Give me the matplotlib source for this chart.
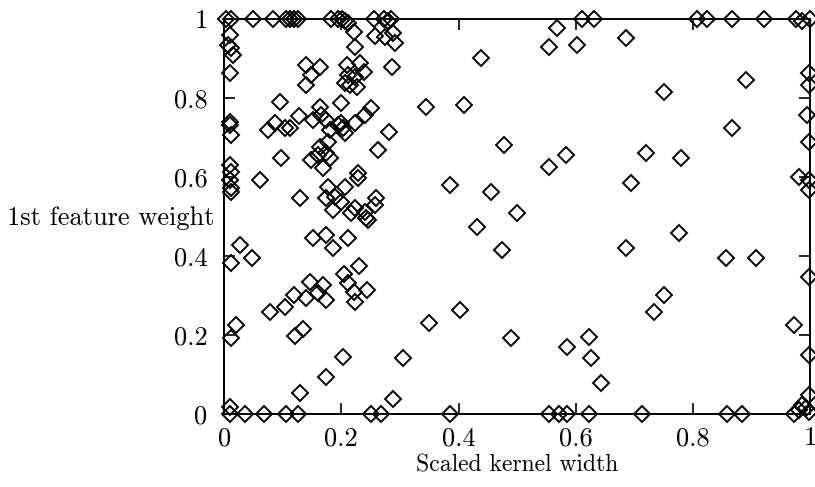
import matplotlib.pyplot as plt

# points pinned at weight = 1 (top edge) and weight = 0 (bottom edge)
top_row_x = [0.003, 0.012, 0.05, 0.084, 0.106, 0.113, 0.12, 0.126, 0.183, 0.195,
             0.202, 0.207, 0.212, 0.255, 0.272, 0.279, 0.285, 0.61, 0.631, 0.807,
             0.824, 0.867, 0.921, 0.976, 0.986, 1.0]
top_row_y = [1.0, 1.0, 1.0, 1.0, 1.0, 1.0, 1.0, 1.0, 1.0, 1.0,
             1.0, 0.995, 0.99, 1.0, 1.0, 0.995, 1.0, 1.0, 1.0, 1.0,
             1.0, 1.0, 1.0, 1.0, 0.995, 1.0]
bottom_row_x = [0.01, 0.036, 0.068, 0.106, 0.126, 0.25, 0.267, 0.386, 0.554,
                0.571, 0.585, 0.622, 0.713, 0.858, 0.884, 0.973, 0.998]
bottom_row_y = [0.0, 0.0, 0.0, 0.0, 0.0, 0.0, 0.0, 0.0, 0.0,
                0.0, 0.0, 0.0, 0.0, 0.0, 0.0, 0.0, 0.005]

# everything in between
kernel_width = [
    0.01, 0.007, 0.012, 0.015, 0.01, 0.01, 0.01, 0.012, 0.01, 0.012, 0.01, 0.012,
    0.012, 0.027, 0.012, 0.048, 0.021, 0.012, 0.01,
    0.221, 0.258, 0.275, 0.289, 0.224, 0.292, 0.568, 0.554, 0.603, 0.685,
    0.14, 0.164, 0.149, 0.14, 0.209, 0.232, 0.238, 0.212, 0.224, 0.215, 0.226,
    0.207, 0.287, 0.438, 0.75, 0.891,
    0.096, 0.075, 0.087, 0.104, 0.113, 0.128, 0.164, 0.2, 0.166, 0.173, 0.152,
    0.181, 0.2, 0.203, 0.207, 0.195, 0.224, 0.241, 0.251, 0.282, 0.263, 0.345,
    0.409, 0.477, 0.867, 0.998, 0.998, 0.995, 0.998,
    0.178, 0.164, 0.173, 0.161, 0.149, 0.181, 0.169, 0.229, 0.229, 0.097, 0.062,
    0.554, 0.583, 0.72, 0.779, 0.386, 0.455, 0.26, 0.694, 0.981, 0.998, 0.998,
    0.13, 0.178, 0.207, 0.19, 0.174, 0.2, 0.224, 0.241, 0.186, 0.217, 0.242,
    0.246, 0.258, 0.499, 0.431, 0.474, 0.776, 0.685, 0.856, 0.908,
    0.152, 0.173, 0.186, 0.212, 0.231, 0.205, 0.147, 0.169, 0.14, 0.161, 0.174,
    0.212, 0.221, 0.243, 0.224, 0.079, 0.104, 0.12, 0.75, 0.733, 0.998,
    0.403, 0.349, 0.489, 0.585, 0.622, 0.626, 0.973, 0.998, 0.121, 0.135,
    0.203, 0.306, 0.174, 0.13, 0.289, 0.643, 0.998, 0.986, 0.993, 0.981,
]
feature_weight = [
    0.96, 0.934, 0.927, 0.909, 0.863, 0.739, 0.732, 0.706, 0.63, 0.613, 0.592,
    0.572, 0.562, 0.428, 0.382, 0.395, 0.225, 0.192, 0.018,
    0.967, 0.957, 0.954, 0.965, 0.929, 0.939, 0.977, 0.929, 0.934, 0.952,
    0.884, 0.878, 0.858, 0.833, 0.884, 0.889, 0.866, 0.858, 0.853, 0.833, 0.828,
    0.838, 0.878, 0.901, 0.815, 0.846,
    0.79, 0.719, 0.737, 0.724, 0.724, 0.754, 0.777, 0.787, 0.757, 0.744, 0.744,
    0.719, 0.737, 0.724, 0.711, 0.732, 0.737, 0.757, 0.775, 0.714, 0.668, 0.777,
    0.782, 0.681, 0.724, 0.863, 0.833, 0.757, 0.689,
    0.689, 0.676, 0.661, 0.656, 0.643, 0.648, 0.623, 0.61, 0.597, 0.648, 0.592,
    0.625, 0.656, 0.661, 0.648, 0.58, 0.562, 0.547, 0.585, 0.6, 0.592, 0.567,
    0.547, 0.575, 0.575, 0.549, 0.547, 0.537, 0.522, 0.511, 0.516, 0.509, 0.496,
    0.492, 0.529, 0.509, 0.473, 0.415, 0.458, 0.42, 0.395, 0.395,
    0.446, 0.453, 0.42, 0.446, 0.375, 0.354, 0.334, 0.327, 0.294, 0.306, 0.289,
    0.332, 0.309, 0.314, 0.284, 0.258, 0.271, 0.301, 0.301, 0.258, 0.347,
    0.263, 0.23, 0.192, 0.17, 0.195, 0.142, 0.225, 0.149, 0.197, 0.215,
    0.144, 0.142, 0.094, 0.053, 0.038, 0.078, 0.048, 0.023, 0.015, 0.01,
]

plt.rcParams['font.family'] = ['cmr10', 'DejaVu Serif']
plt.rcParams['axes.formatter.use_mathtext'] = True

fig = plt.figure(figsize=(8.15, 4.87), dpi=100)
ax = fig.add_axes([0.275, 0.150, 0.719, 0.811])

marker_style = dict(marker='D', linestyle='none', markersize=8.5,
                    markerfacecolor='none', markeredgecolor='black',
                    markeredgewidth=1.4, clip_on=False)
ax.plot(kernel_width, feature_weight, **marker_style)
ax.plot(top_row_x, top_row_y, **marker_style)
ax.plot(bottom_row_x, bottom_row_y, **marker_style)

ax.set_xlim(0, 1)
ax.set_ylim(0, 1)
ax.set_xticks([0, 0.2, 0.4, 0.6, 0.8, 1])
ax.set_xticklabels(['0', '0.2', '0.4', '0.6', '0.8', '1'])
ax.set_yticks([0, 0.2, 0.4, 0.6, 0.8, 1])
ax.set_yticklabels(['0', '0.2', '0.4', '0.6', '0.8', '1'])

for s in ax.spines.values():
    s.set_linewidth(1.4)
ax.tick_params(direction='in', length=8, width=1.2, top=True, right=True,
               labelsize=19)
ax.tick_params(axis='x', pad=9)
ax.tick_params(axis='y', pad=12)

ax.set_xlabel('Scaled kernel width', fontsize=17, labelpad=3)
ax.set_ylabel('1st feature weight', fontsize=19, rotation=0,
              ha='right', va='center')
ax.yaxis.set_label_coords(-0.017, 0.495)

fig.savefig('out.png', dpi=100)
